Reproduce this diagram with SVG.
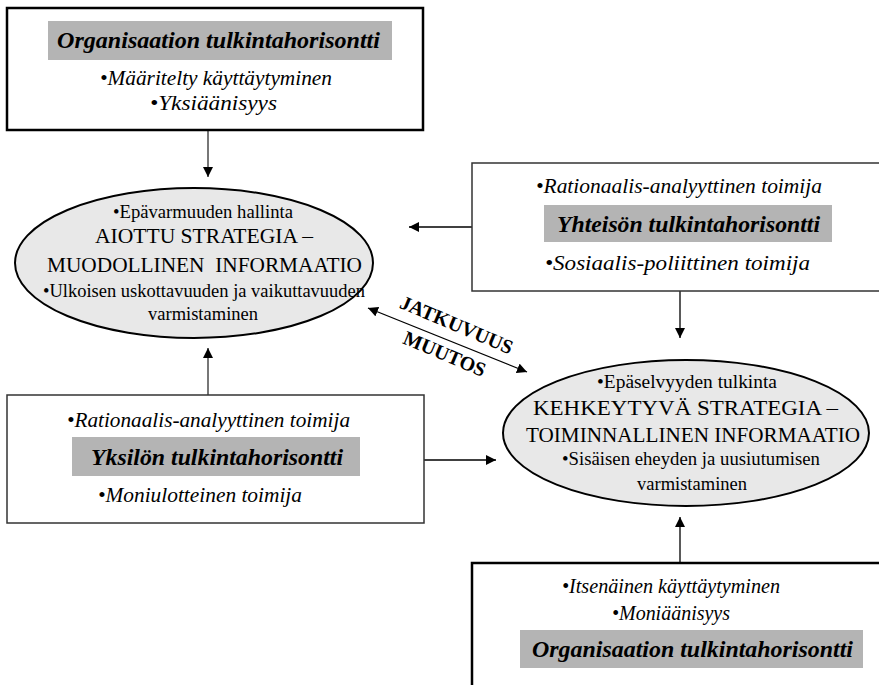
<svg xmlns="http://www.w3.org/2000/svg" width="879" height="685" viewBox="0 0 879 685" font-family="'Liberation Serif', 'DejaVu Serif', serif">
  <style>
    text { font-family: "Liberation Serif", "DejaVu Serif", serif; fill: #000; }
    .it { font-style: italic; font-size: 20.5px; }
    .lbl { font-style: italic; font-weight: bold; font-size: 23.5px; }
    .cap { font-size: 22px; }
    .sm { font-size: 18.5px; }
    .rot { font-weight: bold; font-size: 20px; }
    .box { fill: #fff; stroke: #000; stroke-width: 2.5; }
    .box2 { fill: #fff; stroke: #333; stroke-width: 1.5; }
    .band { fill: #b4b4b4; }
    .ell { fill: #e8e8e8; stroke: #000; stroke-width: 2; }
    .con { stroke: #000; stroke-width: 1.3; fill: none; }
    .con-g { stroke: #777; stroke-width: 2; fill: none; }
  </style>
  <defs>
    <marker id="head" viewBox="0 0 10 10" refX="10" refY="5" markerWidth="10" markerHeight="10" markerUnits="userSpaceOnUse" orient="auto-start-reverse">
      <path d="M0,0 L10,5 L0,10 z" fill="#000"/>
    </marker>
  </defs>

  <rect width="879" height="685" fill="#fff"/>

  <!-- connectors -->
  <g id="connectors">
    <line class="con-g" x1="208" y1="131" x2="208" y2="177" marker-end="url(#head)"/>
    <line class="con" x1="472" y1="227" x2="409" y2="227" marker-end="url(#head)"/>
    <line class="con-g" x1="208" y1="395" x2="208" y2="348" marker-end="url(#head)"/>
    <line class="con" x1="424" y1="460" x2="496" y2="460" marker-end="url(#head)"/>
    <line class="con" x1="680" y1="291" x2="680" y2="338" marker-end="url(#head)"/>
    <line class="con" x1="680" y1="563" x2="680" y2="517" marker-end="url(#head)"/>
    <line class="con" x1="368" y1="308" x2="527" y2="372" marker-start="url(#head)" marker-end="url(#head)"/>
    <text class="rot" text-anchor="middle" transform="translate(454,331) rotate(23)">JATKUVUUS</text>
    <text class="rot" text-anchor="middle" transform="translate(442,360) rotate(23)">MUUTOS</text>
  </g>

  <!-- organisational horizon, top -->
  <g id="org-top">
    <rect class="box" x="7" y="8" width="416" height="122"/>
    <rect class="band" x="48" y="21" width="344" height="39"/>
    <text class="lbl" x="218.5" y="48" text-anchor="middle" textLength="323" lengthAdjust="spacingAndGlyphs">Organisaation tulkintahorisontti</text>
    <text class="it" x="216" y="85" text-anchor="middle" textLength="232" lengthAdjust="spacingAndGlyphs">•Määritelty käyttäytyminen</text>
    <text class="it" x="213.5" y="110" text-anchor="middle" textLength="127" lengthAdjust="spacingAndGlyphs">•Yksiäänisyys</text>
  </g>

  <!-- intended strategy -->
  <g id="intended">
    <ellipse class="ell" cx="194" cy="263" rx="179" ry="75"/>
    <text class="sm" x="203" y="218" text-anchor="middle" textLength="180" lengthAdjust="spacingAndGlyphs">•Epävarmuuden hallinta</text>
    <text class="cap" x="204" y="243" text-anchor="middle" textLength="218" lengthAdjust="spacingAndGlyphs">AIOTTU STRATEGIA –</text>
    <text class="cap" x="204.5" y="272" text-anchor="middle" textLength="315" lengthAdjust="spacingAndGlyphs" xml:space="preserve">MUODOLLINEN  INFORMAATIO</text>
    <text class="sm" x="204" y="297" text-anchor="middle" textLength="322" lengthAdjust="spacingAndGlyphs">•Ulkoisen uskottavuuden ja vaikuttavuuden</text>
    <text class="sm" x="203" y="320" text-anchor="middle" textLength="110" lengthAdjust="spacingAndGlyphs">varmistaminen</text>
  </g>

  <!-- community horizon -->
  <g id="community">
    <rect class="box2" x="472" y="163" width="420" height="128"/>
    <rect class="band" x="544" y="205" width="288" height="37"/>
    <text class="it" x="679" y="193" text-anchor="middle" textLength="286" lengthAdjust="spacingAndGlyphs">•Rationaalis-analyyttinen toimija</text>
    <text class="lbl" x="688.5" y="232" text-anchor="middle" textLength="263" lengthAdjust="spacingAndGlyphs">Yhteisön tulkintahorisontti</text>
    <text class="it" x="677.5" y="270" text-anchor="middle" textLength="265" lengthAdjust="spacingAndGlyphs">•Sosiaalis-poliittinen toimija</text>
  </g>

  <!-- individual horizon -->
  <g id="individual">
    <rect class="box2" x="7" y="395" width="417" height="128"/>
    <rect class="band" x="72" y="437" width="288" height="39"/>
    <text class="it" x="208.5" y="427" text-anchor="middle" textLength="283" lengthAdjust="spacingAndGlyphs">•Rationaalis-analyyttinen toimija</text>
    <text class="lbl" x="217" y="465" text-anchor="middle" textLength="252" lengthAdjust="spacingAndGlyphs">Yksilön tulkintahorisontti</text>
    <text class="it" x="200" y="502" text-anchor="middle" textLength="204" lengthAdjust="spacingAndGlyphs">•Moniulotteinen toimija</text>
  </g>

  <!-- emergent strategy -->
  <g id="emergent">
    <ellipse class="ell" cx="686" cy="433" rx="183" ry="73"/>
    <text class="sm" x="687" y="388" text-anchor="middle" textLength="180" lengthAdjust="spacingAndGlyphs">•Epäselvyyden tulkinta</text>
    <text class="cap" x="685.5" y="415" text-anchor="middle" textLength="305" lengthAdjust="spacingAndGlyphs">KEHKEYTYVÄ STRATEGIA –</text>
    <text class="cap" x="693" y="442" text-anchor="middle" textLength="334" lengthAdjust="spacingAndGlyphs">TOIMINNALLINEN INFORMAATIO</text>
    <text class="sm" x="691" y="465" text-anchor="middle" textLength="258" lengthAdjust="spacingAndGlyphs">•Sisäisen eheyden ja uusiutumisen</text>
    <text class="sm" x="692" y="490" text-anchor="middle" textLength="110" lengthAdjust="spacingAndGlyphs">varmistaminen</text>
  </g>

  <!-- organisational horizon, bottom -->
  <g id="org-bottom">
    <rect class="box" x="472" y="563" width="420" height="140"/>
    <rect class="band" x="520" y="630" width="343" height="38"/>
    <text class="it" x="671" y="593" text-anchor="middle" textLength="218" lengthAdjust="spacingAndGlyphs">•Itsenäinen käyttäytyminen</text>
    <text class="it" x="671" y="620" text-anchor="middle" textLength="118" lengthAdjust="spacingAndGlyphs">•Moniäänisyys</text>
    <text class="lbl" x="692.5" y="657" text-anchor="middle" textLength="321" lengthAdjust="spacingAndGlyphs">Organisaation tulkintahorisontti</text>
  </g>
</svg>
